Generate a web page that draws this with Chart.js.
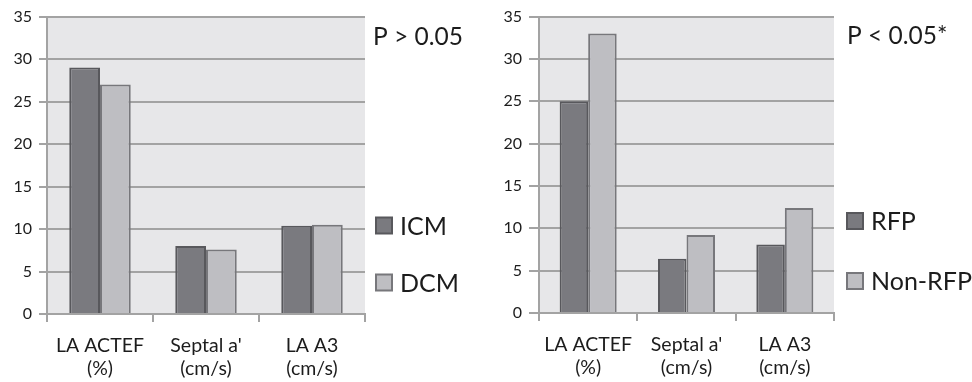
<!DOCTYPE html>
<html>
<head>
<meta charset="utf-8">
<script src="https://cdn.jsdelivr.net/npm/chart.js@4/dist/chart.umd.min.js"></script>
<style>
 body { margin: 0; background: #fff; }
 .box { position: absolute; top: 0; height: 382px; }
</style>
</head>
<body>
<div class="box" style="left:0;width:480px"><canvas id="chartLeft"></canvas></div>
<div class="box" style="left:490px;width:482px"><canvas id="chartRight"></canvas></div>
<script>
// categories shared by both charts
let categories = [["LA ACTEF", "(%)"], ["Septal a'", "(cm/s)"], ["LA A3", "(cm/s)"]];
let yTicks = [0, 5, 10, 15, 20, 25, 30, 35];

// left chart: ICM vs DCM
let leftNames = ["ICM", "DCM"];
let icmValues = [29, 8.0, 10.4];
let dcmValues = [27, 7.6, 10.5];
let leftP = "P > 0.05";

// right chart: RFP vs Non-RFP
let rightNames = ["RFP", "Non-RFP"];
let rfpValues = [25, 6.4, 8.1];
let nonRfpValues = [33, 9.2, 12.4];
let rightP = "P < 0.05*";

const darkFill = '#7a7a7f', darkLine = '#58585c';
const lightFill = '#bebec2', lightLine = '#77777b';
const gridColor = '#a3a3a3';
const textColor = '#1c1c1c';
const fontName = "Lato, 'Open Sans', sans-serif";

// paints the grey plot area, the p-value text and the legend
const decorPlugin = {
 id: 'decor',
 beforeDraw(chart) {
  const a = chart.chartArea;
  const ctx = chart.ctx;
  ctx.save();
  ctx.fillStyle = '#e7e7e9';
  ctx.fillRect(a.left, a.top, a.right - a.left, a.bottom - a.top);
  ctx.restore();
 },
 afterDraw(chart, args, opts) {
  const a = chart.chartArea;
  const ctx = chart.ctx;
  ctx.save();
  ctx.fillStyle = textColor;
  ctx.font = '24.5px ' + fontName;
  ctx.textBaseline = 'alphabetic';
  ctx.fillText(opts.pText, a.right + opts.pX, opts.pY);
  ctx.font = '25px ' + fontName;
  chart.data.datasets.forEach(function(ds, i) {
   const y = opts.legendY[i];
   ctx.fillStyle = ds.backgroundColor;
   ctx.strokeStyle = ds.borderColor;
   ctx.lineWidth = 2;
   ctx.fillRect(a.right + opts.boxX, y - 8, 16, 16);
   ctx.strokeRect(a.right + opts.boxX, y - 8, 16, 16);
   ctx.fillStyle = textColor;
   ctx.textBaseline = 'alphabetic';
   ctx.fillText(ds.label, a.right + opts.boxX + 24, y + 9);
  });
  ctx.restore();
 }
};

function makeChart(id, names, s1, s2, opts) {
 var ctx = document.getElementById(id).getContext('2d');
 return new Chart(ctx, {
  type: 'bar',
  data: {
   labels: categories,
   datasets: [{
    label: names[0],
    data: s1,
    backgroundColor: darkFill,
    borderColor: darkLine,
    borderWidth: 2
   }, {
    label: names[1],
    data: s2,
    backgroundColor: lightFill,
    borderColor: lightLine,
    borderWidth: 2
   }]
  },
  options: {
   responsive: true,
   maintainAspectRatio: false,
   animation: false,
   categoryPercentage: 0.58,
   barPercentage: 1,
   layout: { padding: { left: 0, right: opts.padRight, top: opts.padTop, bottom: 0 } },
   plugins: {
    legend: { display: false },
    tooltip: { enabled: false },
    decor: opts.decor
   },
   scales: {
    x: {
     grid: { drawOnChartArea: false, drawTicks: true, tickLength: 8, color: gridColor, lineWidth: 2, offset: true },
     border: { color: gridColor, width: 2 },
     ticks: { color: textColor, font: { family: fontName, size: 19.5, lineHeight: 1.2 }, padding: 12, maxRotation: 0 },
     afterFit: function(scale) { scale.height = opts.xHeight; }
    },
    y: {
     min: 0,
     max: 35,
     afterBuildTicks: function(scale) { scale.ticks = yTicks.map(function(v) { return { value: v }; }); },
     grid: { color: gridColor, lineWidth: 2, tickLength: opts.tickLen },
     border: { color: gridColor, width: 2 },
     ticks: { color: textColor, font: { family: fontName, size: 16 }, padding: 7 },
     afterFit: function(scale) { scale.width = opts.yWidth; }
    }
   }
  },
  plugins: [decorPlugin]
 });
}

makeChart('chartLeft', leftNames, icmValues, dcmValues, {
 padRight: 115, padTop: 16, xHeight: 68, yWidth: 47, tickLen: 8,
 decor: { pText: leftP, pX: 8, pY: 45, boxX: 11, legendY: [225.5, 282.5] }
});
makeChart('chartRight', rightNames, rfpValues, nonRfpValues, {
 padRight: 138, padTop: 14, xHeight: 69, yWidth: 49, tickLen: 10,
 decor: { pText: rightP, pX: 13, pY: 44, boxX: 13, legendY: [221, 281] }
});
</script>
</body>
</html>
